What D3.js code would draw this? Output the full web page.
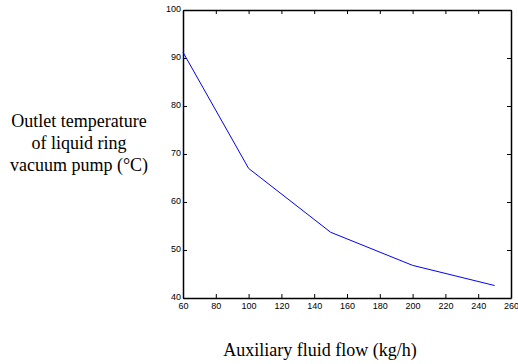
<!DOCTYPE html>
<html lang="en">
<head>
    <meta charset="UTF-8">
    <title>Liquid ring vacuum pump outlet temperature</title>
    <script src="https://d3js.org/d3.v7.min.js"></script>
    <style>
        body { margin: 0; background: #fff; }
    </style>
    <script>
        const FLOW = [60, 100, 150, 200, 250];
        const TEMP = [91.2, 67, 53.7, 46.8, 42.6];
        const X_TICKS = [60, 80, 100, 120, 140, 160, 180, 200, 220, 240, 260];
        const Y_TICKS = [40, 50, 60, 70, 80, 90, 100];
        const Y_LABEL = ["Outlet temperature", "of liquid ring", "vacuum pump (\u00b0C)"];
        const X_LABEL = "Auxiliary fluid flow (kg/h)";

        document.addEventListener("DOMContentLoaded", function() {
            draw();
        });

        function draw() {
            const width = 518, height = 364;
            const margins = {top: 10, right: 7, bottom: 66, left: 183};
            const w = width - margins.left - margins.right;
            const h = height - margins.top - margins.bottom;

            const svg = d3.select("#chart")
                .attr("width", width)
                .attr("height", height);

            const g = svg.append("g")
                .attr("transform", "translate(" + margins.left + "," + margins.top + ")");

            const x = d3.scaleLinear().domain([60, 260]).range([0, w]);
            const y = d3.scaleLinear().domain([40, 100]).range([h, 0]);

            const tickFont = "Liberation Sans, Arial, sans-serif";

            // axes with inward ticks, labels on bottom and left only
            const bottom = g.append("g").attr("transform", "translate(0," + h + ")")
                .call(d3.axisBottom(x).tickValues(X_TICKS).tickSizeInner(-4).tickSizeOuter(0).tickPadding(5));
            const left = g.append("g")
                .call(d3.axisLeft(y).tickValues(Y_TICKS).tickSizeInner(-4).tickSizeOuter(0).tickPadding(2));
            const top = g.append("g")
                .call(d3.axisTop(x).tickValues(X_TICKS).tickSizeInner(-4).tickSizeOuter(0).tickFormat(""));
            const right = g.append("g").attr("transform", "translate(" + w + ",0)")
                .call(d3.axisRight(y).tickValues(Y_TICKS).tickSizeInner(-4).tickSizeOuter(0).tickFormat(""));

            [bottom, left, top, right].forEach(function(a) {
                a.selectAll("path").attr("stroke", "#000").attr("stroke-width", 1.5);
                a.selectAll("line").attr("stroke", "#000");
                a.selectAll("text").attr("fill", "#000")
                    .style("font-family", tickFont).style("font-size", "9px");
            });
            left.selectAll("text").attr("dy", "0.15em");

            const line = d3.line()
                .x(function(d, i) { return x(FLOW[i]); })
                .y(function(d) { return y(d); });

            g.append("path")
                .datum(TEMP)
                .attr("fill", "none")
                .attr("stroke", "#0000ff")
                .attr("stroke-width", 1)
                .attr("d", line);

            const serif = "Liberation Serif, Times New Roman, serif";

            svg.append("text")
                .attr("x", 320)
                .attr("y", 356)
                .attr("text-anchor", "middle")
                .style("font-family", serif)
                .style("font-size", "18px")
                .text(X_LABEL);

            svg.selectAll(".ylab")
                .data(Y_LABEL)
                .enter()
                .append("text")
                .attr("class", "ylab")
                .attr("x", 79)
                .attr("y", function(d, i) { return 127 + i * 22; })
                .attr("text-anchor", "middle")
                .style("font-family", serif)
                .style("font-size", "18px")
                .text(function(d) { return d; });
        }
    </script>
</head>
<body>
    <svg id="chart"></svg>
</body>
</html>
